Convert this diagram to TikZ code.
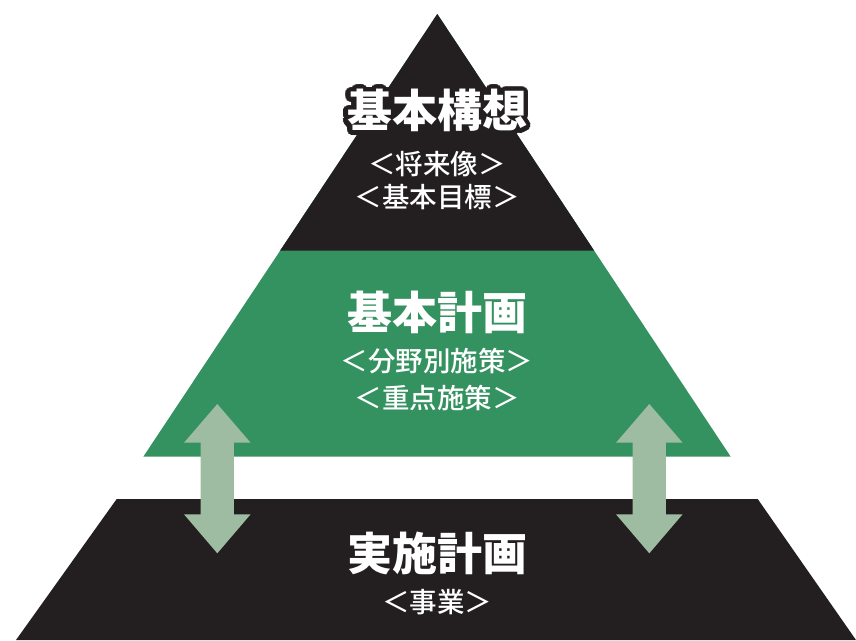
\documentclass[tikz,border=0pt]{standalone}
\usepackage{fontspec}
\usepackage{contour}
\usepackage{tikz}
\usetikzlibrary{positioning,calc}

\newfontfamily\jp{Noto Sans CJK JP}
\newfontfamily\jpmed{Noto Sans CJK JP}[UprightFont={* Medium}]
\definecolor{ink}{HTML}{231F20}
\definecolor{planGreen}{HTML}{349260}
\definecolor{linkGreen}{HTML}{9DBCA1}
\contourlength{4.5pt}
\contournumber{32}

\tikzset{
  layer/.style = {draw=none},
  title/.style = {text=white, font=\jp\bfseries\fontsize{45}{45}\selectfont, inner sep=0pt},
  sub/.style   = {text=white, font=\jpmed\fontsize{27.5}{27.5}\selectfont, inner sep=0pt},
  link/.style  = {fill=linkGreen, draw=none}
}

\begin{document}
\begin{tikzpicture}[x=1pt, y=-1pt]
  \useasboundingbox (0,0) rectangle (856,640);

  % pyramid layers
  \fill[layer, planGreen] (437.3,14) -- (730.7,456.7) -- (143.3,456.7) -- cycle;
  \fill[layer, ink] (437.3,14) -- (594.2,250.7) -- (280.1,250.7) -- cycle;
  \fill[layer, ink] (116.7,499) -- (757.7,499) -- (856,640) -- (16,640) -- cycle;

  % two-way arrows between plan and projects
  \foreach \x in {217.3,649.3}
    \fill[link] (\x,404) -- ++(33.3,38.7) -- ++(-16.8,0) -- ++(0,71.6)
      -- ++(16.8,0) -- (\x,553.3) -- ++(-33.3,-39) -- ++(16.5,0)
      -- ++(0,-71.6) -- ++(-16.5,0) -- cycle;

  \node[title] (kousou) at (437,113) {\contour{ink}{基本構想}};
  \node[sub] (kousouA) at (437,164) {＜将来像＞};
  \node[sub] (kousouB) at (437,197.5) {＜基本目標＞};

  \node[title] (keikaku) at (437,312) {基本計画};
  \node[sub] (keikakuA) at (437,361) {＜分野別施策＞};
  \node[sub] (keikakuB) at (437,398) {＜重点施策＞};

  \node[title] (jisshi) at (437,553) {実施計画};
  \node[sub] (jisshiA) at (437,602) {＜事業＞};
\end{tikzpicture}
\end{document}
